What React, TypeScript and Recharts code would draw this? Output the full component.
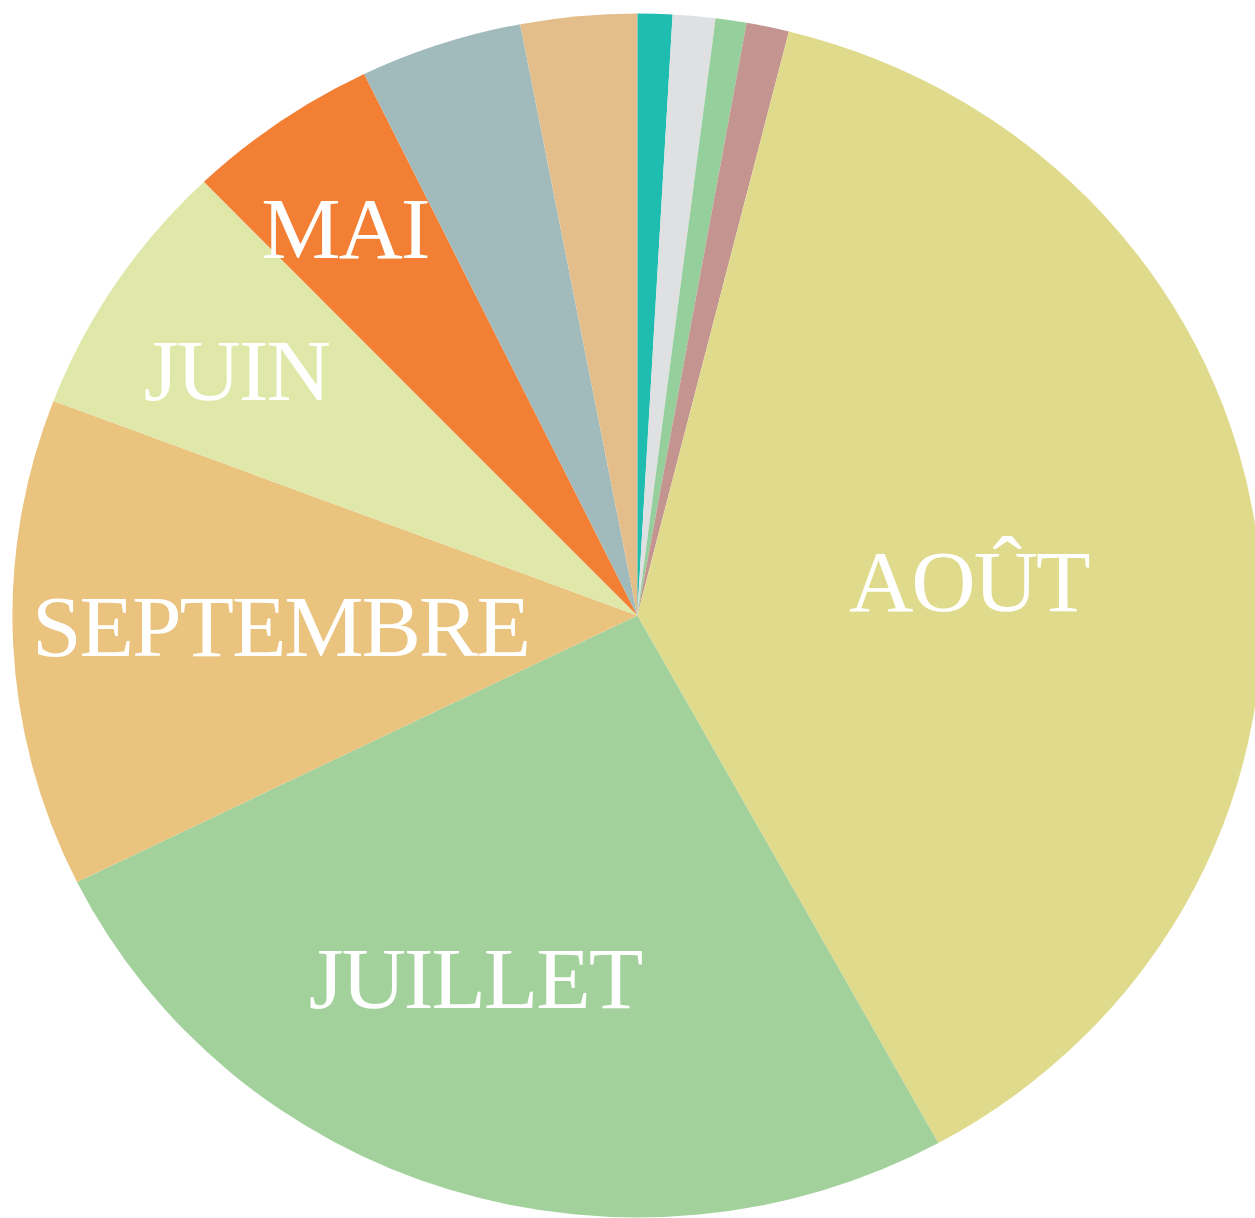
import React from 'react';
import { PieChart, Pie, Cell } from 'recharts';

// Slices in clockwise order starting at 12 o'clock
const categories = ['MARS', 'NOVEMBRE', 'FÉVRIER', 'DÉCEMBRE', 'AOÛT', 'JUILLET', 'SEPTEMBRE', 'JUIN', 'MAI', 'OCTOBRE', 'AVRIL'];
const shares = [0.9, 1.1, 0.8, 1.1, 38.1, 25.7, 13.1, 7.0, 5.0, 4.2, 3.0];
const shownLabels = ['AOÛT', 'JUILLET', 'SEPTEMBRE', 'JUIN', 'MAI'];
const colors = ['#1FBCB0', '#DFE0E2', '#95CF9C', '#C49590', '#E0DB8C', '#A2D19C', '#EAC37F', '#DFE8A9', '#F37F35', '#A1BBBC', '#E3BE8B'];

const data = categories.map((name, i) => ({ name, value: shares[i] }));

// label placement (radius in px, angular nudge in degrees)
const labelPlace: Record<string, { r: number; da: number }> = {
  'AOÛT': { r: 321, da: -1.4 },
  'JUILLET': { r: 396, da: -5.8 },
  'SEPTEMBRE': { r: 344, da: -0.75 },
  'JUIN': { r: 457, da: 1.2 },
  'MAI': { r: 478, da: 1.2 },
};

const FONT_SIZE = 86;

const renderLabel = (props: any) => {
  const { cx, cy, midAngle, index } = props;
  const name = categories[index];
  if (!shownLabels.includes(name)) return null;
  const p = labelPlace[name];
  const rad = ((midAngle + p.da) * Math.PI) / 180;
  const x = cx + p.r * Math.cos(rad);
  const y = cy - p.r * Math.sin(rad) + FONT_SIZE * 0.662 / 2;
  return (
    <text
      x={x}
      y={y}
      fill="#ffffff"
      textAnchor="middle"
      fontFamily="'Liberation Serif', 'DejaVu Serif', serif"
      fontSize={FONT_SIZE}
      letterSpacing={-2}
    >
      {name}
    </text>
  );
};

export default function App() {
  return (
    <div style={{ position: 'absolute', left: 0, top: 0, width: 1255, height: 1218, overflow: 'hidden', background: '#ffffff' }}>
      <div style={{ width: 1255, height: 1218, transform: 'scaleX(1.038)', transformOrigin: '637.3px 615.5px' }}>
        <PieChart width={1255} height={1218} margin={{ top: 0, right: 0, bottom: 0, left: 0 }}>
          <Pie
            data={data}
            dataKey="value"
            nameKey="name"
            cx={637.3}
            cy={615.5}
            innerRadius={0}
            outerRadius={602}
            startAngle={90}
            endAngle={-270}
            stroke="none"
            labelLine={false}
            label={renderLabel}
            isAnimationActive={false}
          >
            {data.map((d, i) => (
              <Cell key={d.name} fill={colors[i]} stroke="none" />
            ))}
          </Pie>
        </PieChart>
      </div>
    </div>
  );
}
